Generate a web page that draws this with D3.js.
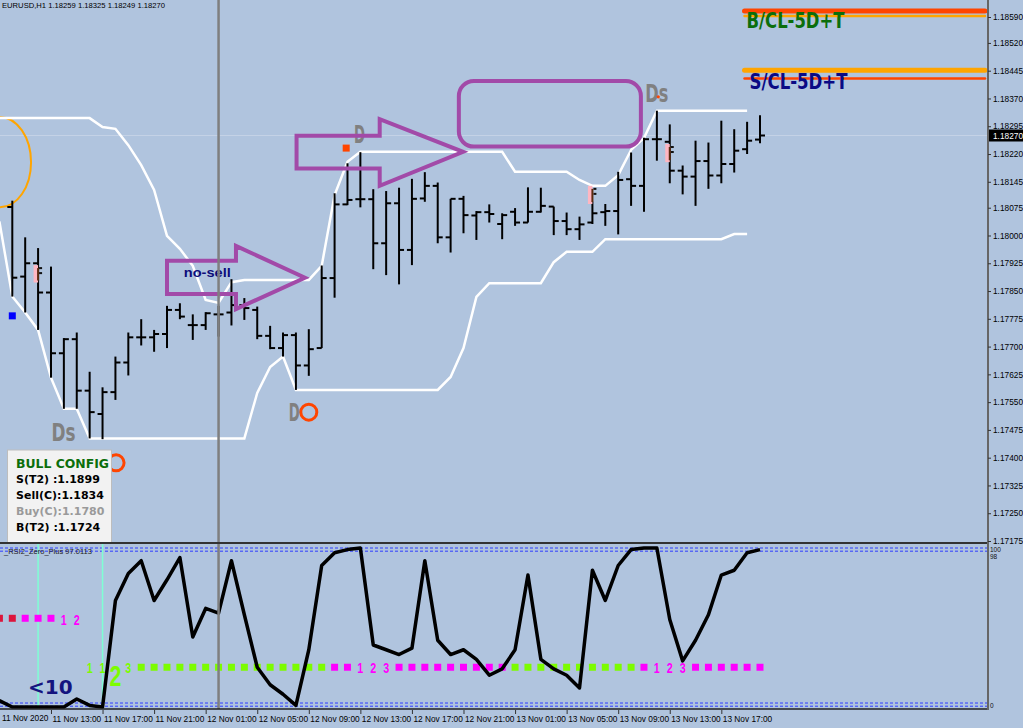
<!DOCTYPE html>
<html>
<head>
<meta charset="utf-8">
<script src="https://cdn.jsdelivr.net/npm/d3@7"></script>
<style>
  body { margin: 0; background: #B0C4DE; }
  svg { display: block; font-family: "Liberation Sans", Arial, sans-serif; }
</style>
</head>
<body>
<script>
// EURUSD H1 bars, 11 Nov 10:00 .. 13 Nov 20:00
var opens  = [1.18077,1.17889,1.17925,1.17846,1.17682,1.17720,1.17581,1.17518,1.17577,1.17657,
              1.17725,1.17725,1.17734,1.17799,1.17758,1.17758,1.17787,1.17792,1.17812,1.17799,
              1.17729,1.17696,1.17731,1.17649,1.17696,1.17885,1.18084,1.18098,1.18098,1.17979,
              1.18087,1.17961,1.18100,1.18134,1.17995,1.18099,1.18054,1.18063,1.18031,1.18064,
              1.18035,1.18064,1.18078,1.18039,1.18017,1.18035,1.18063,1.18066,1.18152,1.18134,
              1.18260,1.18253,1.18175,1.18159,1.18201,1.18162,1.18193,1.18233,1.18259];
var highs  = [1.18094,1.17995,1.17966,1.17916,1.17723,1.17738,1.17632,1.17590,1.17673,1.17738,
              1.17774,1.17745,1.17810,1.17817,1.17787,1.17793,1.17810,1.17882,1.17831,1.17808,
              1.17756,1.17738,1.17738,1.17747,1.17919,1.18114,1.18195,1.18225,1.18125,1.18120,
              1.18129,1.18153,1.18171,1.18143,1.18099,1.18107,1.18066,1.18084,1.18060,1.18074,
              1.18130,1.18129,1.18078,1.18062,1.18051,1.18091,1.18085,1.18172,1.18224,1.18264,
              1.18337,1.18300,1.18189,1.18256,1.18251,1.18310,1.18287,1.18307,1.18325];
var lows   = [1.17835,1.17792,1.17745,1.17616,1.17532,1.17532,1.17452,1.17450,1.17556,1.17622,
              1.17703,1.17686,1.17696,1.17774,1.17718,1.17745,1.17727,1.17757,1.17772,1.17720,
              1.17693,1.17673,1.17583,1.17621,1.17696,1.17832,1.18082,1.18076,1.17909,1.17893,
              1.17868,1.17920,1.18091,1.17979,1.17954,1.18006,1.17988,1.18035,1.17990,1.18026,
              1.18035,1.18062,1.18001,1.18001,1.17988,1.18031,1.18026,1.18003,1.18080,1.18064,
              1.18202,1.18141,1.18111,1.18080,1.18126,1.18141,1.18170,1.18220,1.18249];
var closes = [1.17886,1.17925,1.17846,1.17682,1.17720,1.17581,1.17523,1.17577,1.17657,1.17725,
              1.17725,1.17734,1.17799,1.17781,1.17758,1.17790,1.17787,1.17812,1.17804,1.17729,
              1.17696,1.17731,1.17649,1.17693,1.17885,1.18084,1.18096,1.18098,1.17979,1.18087,
              1.17961,1.18099,1.18134,1.17995,1.18099,1.18055,1.18063,1.18058,1.18055,1.18035,
              1.18064,1.18080,1.18039,1.18017,1.18030,1.18060,1.18066,1.18150,1.18134,1.18260,
              1.18260,1.18175,1.18159,1.18201,1.18162,1.18193,1.18229,1.18256,1.18270];

// channel (first value belongs to the bar before the window)
var upperBand = [1.18317,1.18317,1.18317,1.18317,1.18317,1.18317,1.18317,1.18317,1.18293,1.18288,
                 1.18244,1.18190,1.18123,1.17999,1.17964,1.17918,1.17826,1.17818,1.17874,1.17880,
                 1.17880,1.17880,1.17880,1.17880,1.17880,1.17918,1.18109,1.18199,1.18226,1.18226,
                 1.18226,1.18226,1.18226,1.18226,1.18226,1.18226,1.18226,1.18226,1.18226,1.18226,
                 1.18172,1.18172,1.18172,1.18172,1.18172,1.18150,1.18134,1.18134,1.18163,1.18231,
                 1.18263,1.18337,1.18337,1.18337,1.18337,1.18337,1.18337,1.18337,1.18337];
var lowerBand = [1.18038,1.17835,1.17792,1.17745,1.17616,1.17532,1.17532,1.17452,1.17452,1.17452,
                 1.17452,1.17452,1.17452,1.17452,1.17452,1.17452,1.17452,1.17452,1.17452,1.17452,
                 1.17575,1.17645,1.17673,1.17583,1.17583,1.17583,1.17583,1.17583,1.17583,1.17583,
                 1.17583,1.17583,1.17583,1.17583,1.17583,1.17618,1.17696,1.17834,1.17871,1.17871,
                 1.17871,1.17871,1.17871,1.17928,1.17956,1.17956,1.17956,1.17990,1.17990,1.17990,
                 1.17990,1.17990,1.17990,1.17990,1.17990,1.17990,1.17990,1.18004,1.18004];

// RSI2 (first value belongs to the bar before the window)
var rsi = [4,0,0,0,0,0,5,1,0,67,84,92,67,80,94,44,62,59,92,58,25,
           14,8,1,36,89,97,99,100,39,36,33,37,92,42,33,36,30,20,24,36,
           83,30,24,20,12,86,67,89,99,100,100,55,29,42,58,83,86,97,99];
var rsiLevels = [100, 98, 2.5, 0.5];

var priceTicks = [1.18590,1.18520,1.18445,1.18370,1.18295,1.18220,1.18145,1.18075,1.18000,1.17925,
                  1.17850,1.17775,1.17700,1.17625,1.17550,1.17475,1.17400,1.17325,1.17250,1.17175];
var timeTickBars = [3,7,11,15,19,23,27,31,35,39,43,47,51,55];
var timeTickLabels = ["11 Nov 13:00","11 Nov 17:00","11 Nov 21:00","12 Nov 01:00","12 Nov 05:00",
                      "12 Nov 09:00","12 Nov 13:00","12 Nov 17:00","12 Nov 21:00","13 Nov 01:00",
                      "13 Nov 05:00","13 Nov 09:00","13 Nov 13:00","13 Nov 17:00"];

var configLabels = ["BULL CONFIG","S(T2) :1.1899","Sell(C):1.1834","Buy(C):1.1780","B(T2) :1.1724"];
var configColors = ["#0b6e0b","#000","#000","#9a9a9a","#000"];

// signal rows in the RSI pane: code per bar ("g" green dot, "m" magenta dot, "r" red dot, digits = labels)
var sellRowStart = -1;
var sellRow = ["r","r","m","m","m","1m","2m"];
var buyRowStart = 6;
var buyRow = ["1g","1g","2G","3g","g","g","g","g","g","g","g","g","g","g","g","g","g","g","g",
              "m","m","1m","2m","3m","m","m","m","m","m","m","m","m","m",
              "g","g","g","g","g","g","g","g","g","g",
              "m","1m","2m","3m","m","m","m","m","m","m"];

var W = 1023, H = 728, axisX = 988, sepY = 543, paneBottom = 709;

var svg = d3.select("body").append("svg").attr("width", W).attr("height", H);
svg.append("rect").attr("width", W).attr("height", H).attr("fill", "#B0C4DE");

var x = d3.scaleLinear().domain([0, 58]).range([12.3, 760]);
var y = d3.scaleLinear().domain([1.17175, 1.18590]).range([541, 17]);
var ry = d3.scaleLinear().domain([0, 100]).range([707, 548]);

var defs = svg.append("defs");
defs.append("clipPath").attr("id", "main").append("rect").attr("width", axisX).attr("height", sepY);
defs.append("clipPath").attr("id", "pane").append("rect")
    .attr("y", sepY + 1).attr("width", axisX).attr("height", paneBottom - sepY - 1);

var main = svg.append("g").attr("clip-path", "url(#main)");
var pane = svg.append("g").attr("clip-path", "url(#pane)");

// bid line
main.append("line").attr("x1", 0).attr("x2", axisX)
    .attr("y1", y(closes[58])).attr("y2", y(closes[58]))
    .attr("stroke", "#c4d2e6").attr("stroke-width", 1);

// time marker line
svg.append("line").attr("x1", x(16)).attr("x2", x(16)).attr("y1", 0).attr("y2", paneBottom)
   .attr("stroke", "#7f7f7f").attr("stroke-width", 2.5);

// orange ellipse at the left edge
main.append("ellipse").attr("cx", x(-0.95)).attr("cy", y(1.18198)).attr("rx", 31).attr("ry", 45)
    .attr("fill", "none").attr("stroke", "#FFA500").attr("stroke-width", 2);

// channel
var bandLine = d3.line().x(function(d, i) { return x(i - 1); }).y(function(d) { return y(d); });
main.append("path").datum(upperBand).attr("d", bandLine)
    .attr("fill", "none").attr("stroke", "#fff").attr("stroke-width", 2.5);
main.append("path").datum(lowerBand).attr("d", bandLine)
    .attr("fill", "none").attr("stroke", "#fff").attr("stroke-width", 2.5);

// OHLC bars
var idx = d3.range(opens.length);
var bars = main.append("g").attr("stroke", "#000").attr("stroke-width", 2);
bars.selectAll(".hl").data(idx).enter().append("line")
    .attr("x1", function(i) { return x(i); }).attr("x2", function(i) { return x(i); })
    .attr("y1", function(i) { return y(highs[i]); }).attr("y2", function(i) { return y(lows[i]); });
bars.selectAll(".o").data(idx).enter().append("line")
    .attr("x1", function(i) { return x(i) - 5; }).attr("x2", function(i) { return x(i); })
    .attr("y1", function(i) { return y(opens[i]); }).attr("y2", function(i) { return y(opens[i]); });
bars.selectAll(".c").data(idx).enter().append("line")
    .attr("x1", function(i) { return x(i); }).attr("x2", function(i) { return x(i) + 5; })
    .attr("y1", function(i) { return y(closes[i]); }).attr("y2", function(i) { return y(closes[i]); });

// pink fractal arrows
var fractals = [[2, 1.17920, 1.17873], [45, 1.18134, 1.18085], [51, 1.18247, 1.18198]];
fractals.forEach(function(f) {
  var x0 = x(f[0]), y0 = y(f[1]), y1 = y(f[2]);
  main.append("rect").attr("x", x0 - 4.5).attr("y", y0).attr("width", 4.5).attr("height", y1 - y0)
      .attr("fill", "#FFB6C1");
  main.append("rect").attr("x", x0 + 1).attr("y", y0 + 2).attr("width", 3).attr("height", 2).attr("fill", "#111");
  main.append("rect").attr("x", x0 + 1).attr("y", y0 + 7).attr("width", 3).attr("height", 2).attr("fill", "#111");
  main.append("rect").attr("x", x0 - 1).attr("y", y0 + 3).attr("width", 2).attr("height", (y1 - y0) - 5).attr("fill", "#5a2a10");
});

// small squares
main.append("rect").attr("x", x(0) - 3.5).attr("y", y(1.17783) - 3.5).attr("width", 7).attr("height", 7).attr("fill", "#0000FF");
main.append("rect").attr("x", x(25.9) - 3.5).attr("y", y(1.18236) - 3.5).attr("width", 7).attr("height", 7).attr("fill", "#FF4500");

// circles
[[23, 1.17523], [8.05, 1.17386]].forEach(function(c) {
  main.append("circle").attr("cx", x(c[0])).attr("cy", y(c[1])).attr("r", 8)
      .attr("fill", "none").attr("stroke", "#FF4500").attr("stroke-width", 3);
});

// D / Ds labels
var dLabels = [["Ds", 3.05, 1.17445, 24], ["D", 21.45, 1.17499, 11], ["D", 26.5, 1.18250, 11], ["Ds", 49.1, 1.18361, 23]];
dLabels.forEach(function(d) {
  main.append("text").attr("x", x(d[1])).attr("y", y(d[2])).text(d[0])
      .attr("font-family", "'Liberation Sans Narrow','DejaVu Sans',sans-serif")
      .attr("font-weight", "bold").attr("font-size", 25).attr("fill", "#808080")
      .attr("textLength", d[3]).attr("lengthAdjust", "spacingAndGlyphs");
});
main.append("circle").attr("cx", x(49.1) + 13).attr("cy", y(1.18361) - 5).attr("r", 1.6).attr("fill", "#FF4500");

// purple arrows
var purple = "#A24AA8";
function arrow(b0, bHead, bTip, top, bot, headTop, headBot, tip) {
  var p = [[x(b0), y(top)], [x(bHead), y(top)], [x(bHead), y(headTop)], [x(bTip), y(tip)],
           [x(bHead), y(headBot)], [x(bHead), y(bot)], [x(b0), y(bot)]];
  main.append("path").attr("d", d3.line()(p) + "Z")
      .attr("fill", "none").attr("stroke", purple).attr("stroke-width", 4).attr("stroke-linejoin", "miter");
}
arrow(12.0, 17.35, 22.7, 1.17932, 1.17842, 1.17972, 1.17801, 1.17886);
arrow(22.05, 28.5, 34.97, 1.18269, 1.18181, 1.18314, 1.18134, 1.18226);
main.append("rect").attr("x", x(34.64)).attr("y", y(1.18417))
    .attr("width", x(48.76) - x(34.64)).attr("height", y(1.18240) - y(1.18417))
    .attr("rx", 15).attr("fill", "none").attr("stroke", purple).attr("stroke-width", 4);
main.append("text").attr("x", x(13.3)).attr("y", y(1.17888)).text("no-sell")
    .attr("font-family", "'Liberation Sans Narrow','Liberation Sans',sans-serif")
    .attr("font-weight", "bold").attr("font-size", 13).attr("fill", "#0d0d7a")
    .attr("textLength", 47).attr("lengthAdjust", "spacingAndGlyphs");

// level lines top right
var levelLines = [[1.18606, "#FF4500", 5], [1.18593, "#FFA500", 2.5], [1.18446, "#FFA500", 5], [1.18424, "#FF4500", 2.5]];
levelLines.forEach(function(l) {
  main.append("line").attr("x1", x(56.8)).attr("x2", 985).attr("y1", y(l[0])).attr("y2", y(l[0]))
      .attr("stroke", l[1]).attr("stroke-width", l[2]).attr("stroke-linecap", "round");
});
[["B/CL-5D+T", 1.18606, "#0b6e0b"], ["S/CL-5D+T", 1.18446, "#0a0a85"]].forEach(function(t, i) {
  main.append("text").attr("x", x(56.8) + 2 + i * 3).attr("y", y(t[1]) + (i ? 19 : 17)).text(t[0])
      .attr("font-family", "'Liberation Sans Narrow','DejaVu Sans',sans-serif")
      .attr("font-weight", "bold").attr("font-size", 22).attr("fill", t[2])
      .attr("textLength", 98).attr("lengthAdjust", "spacingAndGlyphs");
});

// header
svg.append("text").attr("x", 2).attr("y", 8).attr("font-size", 8).attr("fill", "#000")
   .attr("textLength", 163).attr("lengthAdjust", "spacingAndGlyphs")
   .text("EURUSD,H1  1.18259 1.18325 1.18249 1.18270");

// config box
var box = svg.append("g");
box.append("rect").attr("x", 7.5).attr("y", 450).attr("width", 104).attr("height", 93)
   .attr("fill", "#F2F2F2").attr("stroke", "#bdbdbd");
configLabels.forEach(function(t, i) {
  box.append("text").attr("x", 16).attr("y", 467.5 + i * 16 - (i > 0 ? 1 : 0)).text(t)
     .attr("font-family", "'DejaVu Sans',Verdana,sans-serif").attr("font-weight", "bold")
     .attr("font-size", i === 0 ? 12 : 11).attr("fill", configColors[i])
     .attr("textLength", i === 0 ? 93 : null).attr("lengthAdjust", "spacingAndGlyphs");
});

// separators and axis line
svg.append("line").attr("x1", 0).attr("x2", axisX).attr("y1", sepY).attr("y2", sepY)
   .attr("stroke", "#333").attr("stroke-width", 2);
svg.append("line").attr("x1", 0).attr("x2", axisX).attr("y1", paneBottom).attr("y2", paneBottom)
   .attr("stroke", "#222").attr("stroke-width", 1.5);
svg.append("line").attr("x1", axisX).attr("x2", axisX).attr("y1", 0).attr("y2", paneBottom + 1)
   .attr("stroke", "#666").attr("stroke-width", 2);

// price axis
var yAxis = d3.axisRight(y).tickValues(priceTicks).tickFormat(d3.format(".5f")).tickSize(3).tickPadding(2);
var ya = svg.append("g").attr("transform", "translate(" + axisX + ",0)").call(yAxis);
ya.select(".domain").remove();
ya.selectAll("text").attr("font-size", 8.3).attr("fill", "#000").attr("font-family", "'Liberation Sans',Arial,sans-serif");
ya.selectAll("line").attr("stroke", "#333");

// current price box
svg.append("rect").attr("x", axisX + 1).attr("y", y(closes[58]) - 6).attr("width", W - axisX).attr("height", 12).attr("fill", "#000");
svg.append("text").attr("x", axisX + 5).attr("y", y(closes[58]) + 3).attr("font-size", 8.3).attr("fill", "#fff")
   .text(d3.format(".5f")(closes[58]));

// time axis
var xAxis = d3.axisBottom(x).tickValues(timeTickBars).tickFormat(function(d, i) { return timeTickLabels[i]; })
    .tickSize(4).tickPadding(1);
var xa = svg.append("g").attr("transform", "translate(0," + (paneBottom + 1) + ")").call(xAxis);
xa.select(".domain").remove();
xa.selectAll("text").attr("text-anchor", "start").attr("dx", 1).attr("dy", "0.9em")
  .attr("font-size", 8.3).attr("fill", "#000").attr("font-family", "'Liberation Sans',Arial,sans-serif");
xa.selectAll("line").attr("stroke", "#333");
svg.append("text").attr("x", 2).attr("y", 721).attr("font-size", 8.3).attr("fill", "#000").text("11 Nov 2020");

// RSI pane
pane.selectAll(".lvl").data(rsiLevels).enter().append("line")
    .attr("x1", 0).attr("x2", axisX).attr("y1", function(d) { return ry(d); }).attr("y2", function(d) { return ry(d); })
    .attr("stroke", "#2f3cff").attr("stroke-width", 1).attr("stroke-dasharray", "3,2");
[2, 7].forEach(function(b) {
  pane.append("line").attr("x1", x(b)).attr("x2", x(b)).attr("y1", sepY).attr("y2", paneBottom)
      .attr("stroke", "#7FFFD4").attr("stroke-width", 1.5);
});
pane.append("text").attr("x", 4).attr("y", 554).attr("font-size", 7.5).attr("fill", "#222")
    .text("_RSI2_Zero_Plus 97.0113");

function signalRow(codes, start, level, small) {
  codes.forEach(function(c, i) {
    var b = start + i, cx = x(b), cy = ry(level);
    var col = c.indexOf("g") >= 0 || c.indexOf("G") >= 0 ? "#7CFC00" : (c.indexOf("r") >= 0 ? "#DC143C" : "#FF00FF");
    var digit = c.replace(/[a-zA-Z]/g, "");
    if (digit) {
      var big = c.indexOf("G") >= 0;
      pane.append("text").attr("x", cx - (big ? 6 : 3)).attr("y", cy + (big ? 19 : small))
          .attr("font-family", "'Liberation Sans Narrow','Liberation Sans',sans-serif").attr("font-weight", "bold")
          .attr("font-size", big ? 30 : 14).attr("fill", col)
          .attr("textLength", big ? 12 : 6).attr("lengthAdjust", "spacingAndGlyphs").text(digit);
    } else {
      pane.append("rect").attr("x", cx - 3.5).attr("y", cy - 3.5).attr("width", 7).attr("height", 7).attr("fill", col);
    }
  });
}
signalRow(sellRow, sellRowStart, 55.8, 6.5);
signalRow(buyRow, buyRowStart, 25, 6);

pane.append("path").datum(rsi)
    .attr("d", d3.line().x(function(d, i) { return x(i - 1); }).y(function(d) { return ry(d); }))
    .attr("fill", "none").attr("stroke", "#000").attr("stroke-width", 3.5).attr("stroke-linejoin", "round");

pane.append("text").attr("x", 28).attr("y", 694).text("<10")
    .attr("font-family", "'DejaVu Sans',sans-serif").attr("font-weight", "bold").attr("font-size", 20).attr("fill", "#14147f");

// RSI scale labels
svg.append("text").attr("x", axisX + 2).attr("y", 552).attr("font-size", 6.5).attr("fill", "#111").text("100");
svg.append("text").attr("x", axisX + 2).attr("y", 559).attr("font-size", 6.5).attr("fill", "#111").text("98");
svg.append("text").attr("x", axisX + 2).attr("y", 708).attr("font-size", 6.5).attr("fill", "#111").text("0");
</script>
</body>
</html>
